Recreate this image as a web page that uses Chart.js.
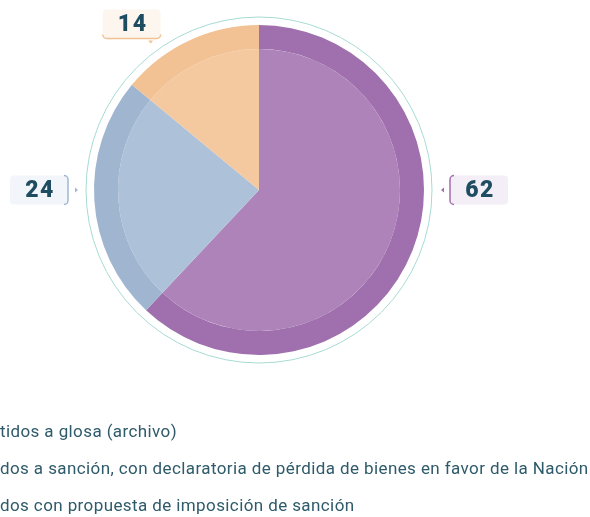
<!DOCTYPE html>
<html>
<head>
<meta charset="utf-8">
<script src="https://cdn.jsdelivr.net/npm/chart.js@4"></script>
<style>
  body { margin: 0; background: #fff; }
  #wrap { position: relative; width: 590px; height: 517px; overflow: hidden; }
  #legend { position: absolute; left: 0; top: 419px; font-family: Roboto, sans-serif; font-size: 17px; letter-spacing: 0.4px; color: #2e5a6a; white-space: nowrap; }
  #legend div { height: 37px; line-height: 24px; }
</style>
</head>
<body>
<div id="wrap">
  <canvas id="pieChart" width="590" height="517"></canvas>
  <div id="legend"></div>
</div>
<script>
// Data
const labels = [
  'tidos a glosa (archivo)',
  'dos a sanción, con declaratoria de pérdida de bienes en favor de la Nación',
  'dos con propuesta de imposición de sanción'
];
const values = [62, 24, 14];
const outerColors = ['#a070ae', '#a0b6d0', '#f2c194'];
const innerColors = ['#ae83b9', '#adc1d8', '#f4c9a0'];
const boxColors = ['#f4eef6', '#f2f5f9', '#fdf6ef'];

// Legend (text only, cut at the left edge like the original)
const legendEl = document.getElementById('legend');
labels.forEach(function (l) {
  const d = document.createElement('div');
  d.textContent = l;
  legendEl.appendChild(d);
});

// Outer thin ring and value callouts
const calloutPlugin = {
  id: 'callouts',
  afterDatasetsDraw(chart) {
    const ctx = chart.ctx;
    const meta = chart.getDatasetMeta(0);
    const first = meta.data[0];
    const cx = first.x, cy = first.y, R = first.outerRadius;

    ctx.save();
    ctx.beginPath();
    ctx.arc(cx, cy, R + 8, 0, Math.PI * 2);
    ctx.strokeStyle = '#a6dbd2';
    ctx.lineWidth = 1;
    ctx.stroke();

    meta.data.forEach(function (arc, i) {
      const s = arc.startAngle, e = arc.endAngle;
      const w = 58, h = 29, r = 4;
      let px, py, side;
      if (s <= 0 && e >= 0) {
        side = 'right'; px = cx + R + 19; py = cy;
      } else if (s <= Math.PI && e >= Math.PI) {
        side = 'left'; px = cx - R - 18; py = cy;
      } else {
        side = 'top';
        const a = s + (e - s) * 0.28;
        px = cx + Math.cos(a) * (R + 18);
        py = cy + Math.sin(a) * (R + 18);
      }

      let bx, by;
      if (side === 'right') { bx = px + 7; by = py - h / 2; }
      else if (side === 'left') { bx = px - 8 - w; by = py - h / 2; }
      else { bx = px - w + 10; by = py - 33; }

      // box
      ctx.fillStyle = boxColors[i];
      ctx.beginPath();
      ctx.roundRect(bx, by, w, h, r);
      ctx.fill();

      // coloured edge
      ctx.strokeStyle = outerColors[i];
      ctx.lineWidth = 1.5;
      ctx.beginPath();
      if (side === 'right') {
        ctx.moveTo(bx + r, by);
        ctx.arcTo(bx, by, bx, by + r, r);
        ctx.lineTo(bx, by + h - r);
        ctx.arcTo(bx, by + h, bx + r, by + h, r);
      } else if (side === 'left') {
        ctx.moveTo(bx + w - r, by);
        ctx.arcTo(bx + w, by, bx + w, by + r, r);
        ctx.lineTo(bx + w, by + h - r);
        ctx.arcTo(bx + w, by + h, bx + w - r, by + h, r);
      } else {
        ctx.moveTo(bx, by + h - r);
        ctx.arcTo(bx, by + h, bx + r, by + h, r);
        ctx.lineTo(bx + w - r, by + h);
        ctx.arcTo(bx + w, by + h, bx + w, by + h - r, r);
      }
      ctx.stroke();

      // small pointer
      ctx.fillStyle = outerColors[i];
      ctx.beginPath();
      if (side === 'right') {
        ctx.moveTo(px - 2, py); ctx.lineTo(px + 1, py - 2.5); ctx.lineTo(px + 1, py + 2.5);
      } else if (side === 'left') {
        ctx.moveTo(px + 2, py); ctx.lineTo(px - 1, py - 2.5); ctx.lineTo(px - 1, py + 2.5);
      } else {
        ctx.moveTo(px, py + 1); ctx.lineTo(px - 2.5, py - 2); ctx.lineTo(px + 2.5, py - 2);
      }
      ctx.fill();

      // value
      ctx.fillStyle = '#1e4d61';
      ctx.font = '900 23px Roboto, sans-serif';
      ctx.letterSpacing = '1.5px';
      ctx.textAlign = 'center';
      ctx.textBaseline = 'middle';
      ctx.fillText(String(values[i]), bx + w / 2 + 1, by + h / 2 + 1);
    });
    ctx.restore();
  }
};

const ctxPie = document.getElementById('pieChart').getContext('2d');
const pieChart = new Chart(ctxPie, {
  type: 'pie',
  data: {
    labels: labels,
    datasets: [{
      data: values,
      backgroundColor: outerColors,
      borderWidth: 0,
      weight: 24
    }, {
      data: values,
      backgroundColor: innerColors,
      borderWidth: 0,
      weight: 141
    }]
  },
  options: {
    responsive: false,
    animation: false,
    layout: {
      padding: { top: 25, bottom: 162, left: 94, right: 166 }
    },
    plugins: {
      legend: { display: false },
      tooltip: { enabled: false }
    }
  },
  plugins: [calloutPlugin]
});
</script>
</body>
</html>
